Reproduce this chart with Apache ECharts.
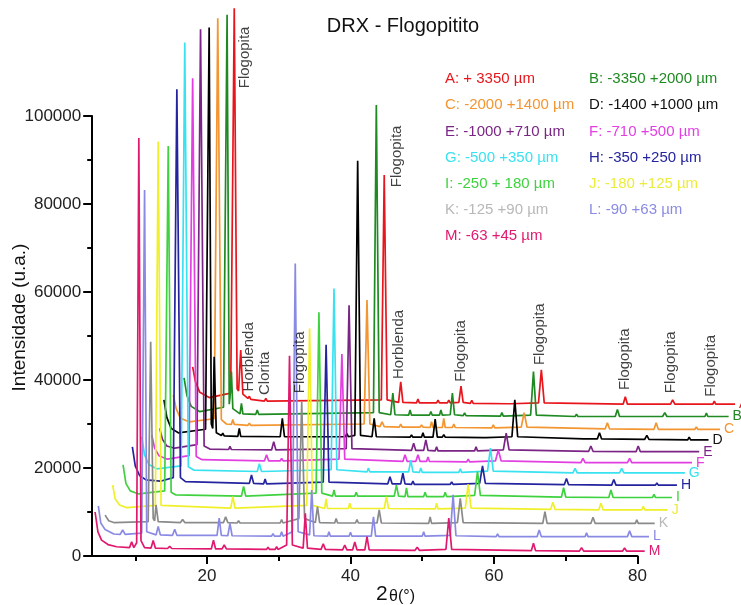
<!DOCTYPE html>
<html>
<head>
<meta charset="utf-8">
<script src="https://cdn.jsdelivr.net/npm/echarts@6/dist/echarts.min.js"></script>
<style>
html,body{margin:0;padding:0;background:#fff;}
#chart{width:741px;height:605px;}
</style>
</head>
<body>
<div id="chart"></div>
<script>
// ---- data (x = 2θ in degrees as plotted, y = intensity in thousands of counts as plotted, offsets included) ----
const seriesKeys = ['A','B','C','D','E','F','G','H','I','J','K','L','M'];
const legendLabels = ['A: + 3350 µm','B: -3350 +2000 µm','C: -2000 +1400 µm','D: -1400 +1000 µm',
  'E: -1000 +710 µm','F: -710 +500 µm','G: -500 +350 µm','H: -350 +250 µm',
  'I: -250 + 180 µm','J: -180 +125 µm','K: -125 +90 µm','L: -90 +63 µm','M: -63 +45 µm'];

const ptsA = [[18.0,43],[18.4,39.5],[19.0,37.2],[20.3,36.0],[23.3,37.0],[23.8,124.5],[24.2,38],[24.4,37.5],[24.7,46.8],[25.0,36.8],[25.7,35.8],[25.9,36.3],[26.1,35.6],[28.0,35.2],[28.2,35.8],[28.4,35.2],[44.3,35.5],[44.7,86.6],[45.1,35.5],[46.7,34.9],[47.0,39.6],[47.3,34.9],[49.2,34.8],[49.4,35.7],[49.6,34.8],[52.0,34.8],[52.2,35.4],[52.4,34.8],[53.5,34.8],[53.7,35.4],[53.9,34.8],[55.1,34.9],[55.4,38.6],[55.7,34.9],[56.7,34.7],[56.9,35.4],[57.1,34.7],[62.0,34.6],[62.2,35.0],[62.4,34.6],[66.2,34.8],[66.6,42.3],[67.0,34.8],[78.0,34.5],[78.3,36.2],[78.6,34.5],[84.6,34.5],[84.9,35.5],[85.2,34.5],[90.5,34.5],[90.7,35.2],[90.9,34.5],[93.6,34.5]];
const ptsB = [[16.8,40.5],[17.2,36.5],[17.8,34.0],[19.0,32.8],[22.3,33.8],[22.8,123.0],[23.1,34.5],[23.2,36],[23.4,41.9],[23.6,33.5],[24.6,32.3],[24.8,34.7],[25.0,32.3],[26.8,32.2],[27.0,33.2],[27.2,32.2],[43.2,32.6],[43.6,102.5],[44.0,32.6],[45.6,32.1],[45.9,37.0],[46.2,32.1],[48.1,32.0],[48.3,33.2],[48.5,32.0],[51.0,32.0],[51.2,32.8],[51.4,32.0],[52.4,32.0],[52.6,33.2],[52.8,32.0],[53.9,32.1],[54.2,37.0],[54.5,32.1],[55.7,31.9],[55.9,32.5],[56.1,31.9],[60.9,31.8],[61.1,32.6],[61.3,31.8],[65.1,32.0],[65.5,41.9],[65.9,32.0],[71.3,31.7],[71.5,32.2],[71.7,31.7],[76.9,31.7],[77.2,33.3],[77.5,31.7],[83.5,31.7],[83.8,32.6],[84.1,31.7],[89.4,31.7],[89.6,32.5],[89.8,31.7],[92.7,31.7]];
const ptsC = [[15.3,36.6],[15.7,33.5],[16.3,31.3],[17.5,30.5],[21.0,31.2],[21.5,122.2],[22.0,31.0],[22.7,30.0],[23.4,29.9],[23.6,31.0],[23.8,29.9],[25.7,29.7],[25.9,30.2],[26.1,29.7],[41.9,30.0],[42.3,58.2],[42.7,30.0],[44.1,29.4],[44.4,30.5],[44.7,29.4],[46.8,29.3],[47.0,30.0],[47.2,29.3],[49.7,29.3],[49.9,29.8],[50.1,29.3],[51.1,29.2],[51.3,30.5],[51.5,29.2],[52.8,29.2],[53.0,31.3],[53.2,29.2],[54.2,29.2],[54.4,30.0],[54.6,29.2],[59.7,29.1],[59.9,29.8],[60.1,29.1],[63.8,29.3],[64.2,32.6],[64.6,29.3],[75.5,28.9],[75.8,30.3],[76.1,28.9],[82.3,28.8],[82.6,30.3],[82.9,28.8],[88.0,28.8],[88.2,29.3],[88.4,28.8],[91.5,28.8]];
const ptsD = [[14.0,35.5],[14.4,31.5],[15.0,29.0],[16.0,28.0],[19.8,28.8],[20.3,120.1],[20.6,30],[20.8,29],[21.0,45.3],[21.3,28.0],[22.0,27.4],[22.2,27.9],[22.4,27.3],[24.3,27.2],[24.5,29.0],[24.7,27.2],[30.2,27.1],[30.5,31.3],[30.8,27.1],[39.3,27.1],[39.5,27.8],[39.7,27.1],[40.6,27.4],[41.0,89.8],[41.4,27.4],[43.0,27.1],[43.3,31.3],[43.6,27.1],[48.3,27.0],[48.5,27.5],[48.7,27.0],[49.9,27.0],[50.1,28.0],[50.3,27.0],[51.5,27.0],[51.8,31.1],[52.1,27.0],[52.8,27.0],[53.0,27.6],[53.2,27.0],[58.5,26.9],[58.7,27.3],[58.9,26.9],[62.5,27.1],[62.9,35.5],[63.3,27.1],[72.5,26.6],[72.7,27.0],[72.9,26.6],[74.4,26.6],[74.7,28.0],[75.0,26.6],[81.0,26.5],[81.3,27.4],[81.6,26.5],[87.0,26.4],[87.2,27.0],[87.4,26.4],[89.9,26.4]];
const ptsE = [[13.4,29],[13.8,26.5],[14.4,25.0],[15.5,24.5],[18.6,25.3],[19.1,119.7],[19.6,25.0],[20.4,24.3],[23.0,24.2],[23.2,24.9],[23.4,24.2],[29.0,24.1],[29.3,26.0],[29.6,24.1],[39.4,24.4],[39.8,57.0],[40.2,24.4],[48.5,24.0],[48.8,25.6],[49.1,24.0],[50.2,24.0],[50.5,26.4],[50.8,24.0],[51.8,23.9],[52.0,24.8],[52.2,23.9],[57.3,23.9],[57.5,24.8],[57.7,23.9],[61.3,24.1],[61.7,27.9],[62.1,24.1],[73.2,23.8],[73.5,25.0],[73.8,23.8],[79.8,23.7],[80.1,25.0],[80.4,23.7],[85.6,23.7],[85.8,24.1],[86.0,23.7],[88.6,23.7]];
const ptsF = [[12.3,27.5],[12.7,24.5],[13.3,22.8],[14.5,22.0],[17.5,22.8],[18.0,108.6],[18.5,22.6],[19.3,21.9],[28.0,21.6],[28.3,23.0],[28.6,21.6],[30.2,21.6],[30.4,22.2],[30.6,21.6],[38.4,22.0],[38.8,45.9],[39.2,22.0],[47.3,21.5],[47.6,23.0],[47.9,21.5],[49.1,21.5],[49.4,23.0],[49.7,21.5],[50.6,21.5],[50.8,22.5],[51.0,21.5],[56.2,21.4],[56.4,22.0],[56.6,21.4],[60.2,21.6],[60.6,24.1],[61.0,21.6],[72.1,21.2],[72.4,22.2],[72.7,21.2],[78.6,21.2],[78.9,22.2],[79.2,21.2],[84.8,21.2],[85.0,21.5],[85.2,21.2],[87.6,21.2]];
const ptsG = [[10.9,27.1],[11.3,23.0],[11.9,20.8],[13.0,19.8],[16.4,20.5],[16.9,116.7],[17.4,20.3],[18.2,19.5],[27.0,19.2],[27.3,21.0],[27.6,19.2],[37.3,19.6],[37.7,60.8],[38.1,19.6],[42.3,19.1],[42.5,20.0],[42.7,19.1],[48.1,19.1],[48.4,21.8],[48.7,19.1],[49.6,19.0],[49.8,20.0],[50.0,19.0],[55.1,19.0],[55.3,19.8],[55.5,19.0],[59.1,19.3],[59.5,24.5],[59.9,19.3],[71.0,18.9],[71.3,19.9],[71.6,18.9],[77.5,18.9],[77.8,19.9],[78.1,18.9],[83.6,18.9],[83.8,19.3],[84.0,18.9],[86.6,18.9]];
const ptsH = [[9.6,24.8],[10.0,20.5],[10.6,18.3],[11.5,17.3],[13.5,17.0],[15.3,17.8],[15.8,106.1],[16.3,17.8],[17.0,16.9],[25.9,16.5],[26.2,18.4],[26.5,16.5],[27.9,16.4],[28.1,17.5],[28.3,16.4],[36.2,16.8],[36.6,48.0],[37.0,16.8],[45.2,16.4],[45.5,18.0],[45.8,16.4],[47.0,16.4],[47.3,18.8],[47.6,16.4],[48.5,16.3],[48.7,17.0],[48.9,16.3],[53.9,16.3],[54.1,16.8],[54.3,16.3],[58.0,16.5],[58.4,20.5],[58.8,16.5],[69.8,16.2],[70.1,17.6],[70.4,16.2],[76.4,16.1],[76.7,17.4],[77.0,16.1],[82.5,16.1],[82.7,16.6],[82.9,16.1],[85.5,16.1]];
const ptsI = [[8.3,20.7],[8.7,16.5],[9.3,14.8],[10.5,14.1],[14.1,14.8],[14.6,93.2],[15.0,14.5],[15.6,13.9],[24.8,13.6],[25.1,15.8],[25.4,13.6],[35.2,14.3],[35.6,55.4],[36.0,14.3],[37.5,13.6],[37.7,15.0],[37.9,13.6],[40.6,13.6],[40.8,14.5],[41.0,13.6],[46.1,13.6],[46.4,16.1],[46.7,13.6],[47.6,13.5],[47.8,15.5],[48.0,13.5],[50.2,13.5],[50.4,14.5],[50.6,13.5],[53.0,13.5],[53.2,14.5],[53.4,13.5],[57.3,13.8],[57.7,19.2],[58.1,13.8],[69.4,13.4],[69.7,15.5],[70.0,13.4],[76.0,13.3],[76.3,15.0],[76.6,13.3],[82.1,13.3],[82.3,14.0],[82.5,13.3],[84.8,13.3]];
const ptsJ = [[6.85,16.1],[7.2,13],[7.8,11.6],[8.8,11.0],[12.8,11.5],[13.2,94.2],[13.6,11.5],[23.3,10.9],[23.6,13.5],[23.9,10.9],[33.9,11.5],[34.3,51.7],[34.7,11.5],[36.4,10.8],[36.6,13.0],[36.8,10.8],[39.7,10.8],[39.9,12.0],[40.1,10.8],[44.7,10.8],[45.0,13.5],[45.3,10.8],[51.8,10.7],[52.0,12.0],[52.2,10.7],[56.0,10.9],[56.4,16.3],[56.8,10.9],[67.9,10.6],[68.2,12.2],[68.5,10.6],[74.6,10.5],[74.9,12.0],[75.2,10.5],[80.6,10.5],[80.8,11.3],[81.0,10.5],[84.2,10.5]];
const ptsK = [[5.8,9.3],[6.3,8.0],[7.0,7.6],[11.8,7.8],[12.15,48.7],[12.5,8.5],[12.7,8.0],[12.9,11.6],[13.2,7.8],[16.3,7.6],[16.6,8.3],[16.9,7.6],[22.3,7.6],[22.6,8.9],[22.9,7.6],[24.2,7.5],[24.4,8.0],[24.6,7.5],[30.2,7.5],[30.4,8.3],[30.6,7.5],[32.8,8.5],[33.2,35],[33.6,8.5],[35.1,7.6],[35.4,11.2],[35.7,7.6],[37.8,7.5],[38.0,8.5],[38.2,7.5],[40.7,7.5],[40.9,8.3],[41.1,7.5],[43.7,7.5],[44.0,10.5],[44.3,7.5],[50.9,7.4],[51.1,8.9],[51.3,7.4],[54.9,7.6],[55.3,13.1],[55.7,7.6],[66.8,7.4],[67.1,10.1],[67.4,7.4],[73.5,7.4],[73.8,8.8],[74.1,7.4],[79.7,7.4],[79.9,8.2],[80.1,7.4],[82.4,7.4]];
const ptsL = [[4.85,11.4],[5.2,7.5],[5.8,6.0],[7.0,5.0],[7.9,4.9],[8.25,5.9],[8.6,4.9],[10.9,5.2],[11.3,83.2],[11.6,5.5],[12.9,4.8],[13.2,6.7],[13.5,4.8],[15.2,4.7],[15.5,6.1],[15.8,4.7],[21.4,4.7],[21.7,8.6],[22.0,4.7],[22.9,4.6],[23.2,7.4],[23.5,4.6],[29.0,4.5],[29.2,5.1],[29.4,4.5],[30.2,4.5],[30.4,5.5],[30.6,4.5],[31.9,5.5],[32.3,66.5],[32.7,5.5],[34.3,4.8],[34.6,15],[34.9,4.6],[36.8,4.5],[37.0,5.5],[37.2,4.5],[39.8,4.5],[40.0,5.4],[40.2,4.5],[42.9,4.5],[43.2,8.9],[43.5,4.5],[50.0,4.5],[50.2,5.5],[50.4,4.5],[53.9,4.7],[54.3,13.9],[54.7,4.6],[60.3,4.4],[60.5,5.0],[60.7,4.4],[66.0,4.4],[66.3,5.9],[66.6,4.4],[72.7,4.4],[72.9,5.3],[73.1,4.4],[78.6,4.4],[78.9,5.7],[79.2,4.4],[81.6,4.4]];
const ptsM = [[4.4,10],[4.8,5.5],[5.3,3.6],[6.2,2.6],[7.4,2.1],[9.2,1.9],[9.5,3.2],[9.8,1.9],[10.2,3],[10.5,95],[10.8,3.5],[11.3,1.9],[12.2,1.8],[12.5,3.5],[12.8,1.8],[14.5,1.7],[14.8,2.2],[15.1,1.7],[20.6,1.6],[20.9,3.6],[21.2,1.6],[22.1,1.6],[22.4,2.5],[22.7,1.6],[28.3,1.5],[28.5,2.0],[28.7,1.5],[29.5,1.5],[29.7,2.1],[29.9,1.5],[31.1,2.5],[31.5,45.5],[31.9,2.5],[33.4,1.8],[33.7,9.7],[34.0,1.8],[35.9,1.5],[36.2,2.8],[36.5,1.5],[38.9,1.4],[39.2,2.5],[39.5,1.4],[40.3,1.4],[40.6,3.2],[40.9,1.4],[42.0,1.4],[42.3,4.4],[42.6,1.4],[49.0,1.3],[49.3,2.0],[49.6,1.3],[53.3,1.5],[53.7,8.6],[54.1,1.5],[65.2,1.2],[65.5,2.9],[65.8,1.2],[71.9,1.1],[72.2,1.9],[72.5,1.1],[77.9,1.1],[78.2,1.8],[78.5,1.1],[81.0,1.1]];
const seriesPoints = [ptsA,ptsB,ptsC,ptsD,ptsE,ptsF,ptsG,ptsH,ptsI,ptsJ,ptsK,ptsL,ptsM];

// peak annotations: x (2θ), y (bottom of text, thousands), text
const annotX = [25.3, 25.85, 28.0, 32.9, 46.5, 46.8, 55.4, 66.45, 78.2, 84.6, 90.2];
const annotY = [106.3, 37.4, 36.6, 37.0, 83.8, 40.2, 39.6, 43.4, 37.7, 37.0, 36.2];
const annotText = ['Flogopita','Horblenda','Clorita','Flogopita','Flogopita','Horblenda','Flogopita','Flogopita','Flogopita','Flogopita','Flogopita'];

const xMajorTicks = [20, 40, 60, 80];
const xMinorTicks = [10, 30, 50, 70];

// ---- styles ----
const lineColors = ['#e8161c','#1f8a22','#f39530','#000000','#7a2585','#e23ee2','#38e2f0','#24249f','#3fd23f','#f0f02a','#8a8a8a','#8a8ae4','#e0196f'];
const textColors = ['#e8161c','#1f8a22','#f39530','#111111','#7a2585','#e23ee2','#38e2f0','#24249f','#3fd23f','#ecec3a','#b8b8b8','#8a8ae4','#e0196f'];

const FONT = 'Liberation Sans, Arial, sans-serif';
const chart = echarts.init(document.getElementById('chart'), null, {renderer: 'canvas'});

// grid 0 carries the visible axes (4..80); grid 1 shares the same scale but reaches the right edge
const gridLeft = 92.2, gridTop = 116, gridBottom = 49;
const axisRightPx = 637.5;
const dataMax = 4 + (741 - gridLeft) * (80 - 4) / (axisRightPx - gridLeft);

const lineSeries = seriesKeys.map((k, i) => ({
  name: legendLabels[i],
  type: 'line',
  xAxisIndex: 2,
  yAxisIndex: 1,
  data: seriesPoints[i].map(p => [p[0], p[1] * 1000]),
  showSymbol: false,
  symbol: 'none',
  clip: false,
  lineStyle: {color: lineColors[i], width: 1.7},
  itemStyle: {color: lineColors[i]},
  emphasis: {disabled: true},
  endLabel: {
    show: true,
    formatter: k,
    color: textColors[i],
    fontSize: 14,
    fontFamily: FONT,
    distance: 4
  },
  z: 2
}));

const annotSeries = {
  type: 'scatter',
  xAxisIndex: 2,
  yAxisIndex: 1,
  clip: false,
  silent: true,
  symbol: 'circle',
  symbolSize: 1,
  itemStyle: {color: 'rgba(0,0,0,0)'},
  data: annotX.map((x, i) => ({value: [x, annotY[i] * 1000], name: annotText[i]})),
  label: {
    show: true,
    position: 'inside',
    rotate: 90,
    align: 'left',
    verticalAlign: 'middle',
    formatter: p => p.name,
    color: '#111',
    fontSize: 15,
    fontFamily: FONT
  },
  z: 5
};

const col1 = [0,2,4,6,8,10,12];
const col2 = [1,3,5,7,9,11];
function mkLegend(idxs, left) {
  return {
    orient: 'vertical',
    left: left,
    top: 70,
    padding: 0,
    itemGap: 8.2,
    itemWidth: 0,
    itemHeight: 0,
    icon: 'rect',
    selectedMode: false,
    data: idxs.map(i => ({name: legendLabels[i], textStyle: {color: textColors[i]}})),
    textStyle: {fontSize: 15, lineHeight: 18, fontFamily: FONT}
  };
}

const axisFont = {fontSize: 17, color: '#222', fontFamily: FONT};

const option = {
  animation: false,
  backgroundColor: '#ffffff',
  title: {
    text: 'DRX - Flogopitito',
    left: 398,
    top: 11,
    textAlign: 'center',
    textStyle: {fontSize: 20, fontWeight: 'normal', color: '#111', fontFamily: FONT}
  },
  legend: [mkLegend(col1, 440), mkLegend(col2, 584)],
  graphic: [
    {type: 'text', x: 20, y: 317.5, rotation: Math.PI / 2, silent: true,
     style: {text: 'Intensidade (u.a.)', fill: '#111', font: '19px ' + FONT, align: 'center', verticalAlign: 'middle'}},
    {type: 'text', x: 376, y: 594.5, silent: true,
     style: {text: '2', fill: '#111', font: '21px ' + FONT, align: 'left', verticalAlign: 'middle'}},
    {type: 'text', x: 389, y: 596.5, silent: true,
     style: {text: 'θ(°)', fill: '#111', font: '16px ' + FONT, align: 'left', verticalAlign: 'middle'}}
  ],
  grid: [
    {left: gridLeft, right: 741 - axisRightPx, top: gridTop, bottom: gridBottom, containLabel: false, outerBoundsMode: 'none'},
    {left: gridLeft, right: 0, top: gridTop, bottom: gridBottom, containLabel: false, outerBoundsMode: 'none'}
  ],
  xAxis: [
    {
      gridIndex: 0, type: 'value', min: 4, max: 80, position: 'bottom',
      axisLine: {show: true, onZero: false, lineStyle: {color: '#000', width: 2}},
      axisTick: {show: true, inside: false, length: 8, customValues: xMajorTicks, lineStyle: {color: '#000', width: 2}},
      axisLabel: Object.assign({show: true, margin: 12, customValues: xMajorTicks}, axisFont),
      splitLine: {show: false}
    },
    {
      gridIndex: 0, type: 'value', min: 4, max: 80, position: 'bottom', offset: 0,
      axisLine: {show: false, onZero: false},
      axisTick: {show: true, inside: false, length: 5, customValues: xMinorTicks, lineStyle: {color: '#000', width: 2}},
      axisLabel: {show: false},
      splitLine: {show: false}
    },
    {
      gridIndex: 1, type: 'value', min: 4, max: dataMax, show: false
    }
  ],
  yAxis: [
    {
      gridIndex: 0, type: 'value', min: 0, max: 100000, interval: 20000,
      axisLine: {show: true, onZero: false, lineStyle: {color: '#000', width: 2}},
      axisTick: {show: true, inside: false, length: 9, lineStyle: {color: '#000', width: 2}},
      minorTick: {show: true, splitNumber: 2, length: 5, lineStyle: {color: '#000', width: 2}},
      axisLabel: Object.assign({margin: 11, formatter: v => String(v)}, axisFont),
      splitLine: {show: false},
      minorSplitLine: {show: false}
    },
    {
      gridIndex: 1, type: 'value', min: 0, max: 100000, show: false
    }
  ],
  series: lineSeries.concat([annotSeries])
};

chart.setOption(option);
</script>
</body>
</html>
